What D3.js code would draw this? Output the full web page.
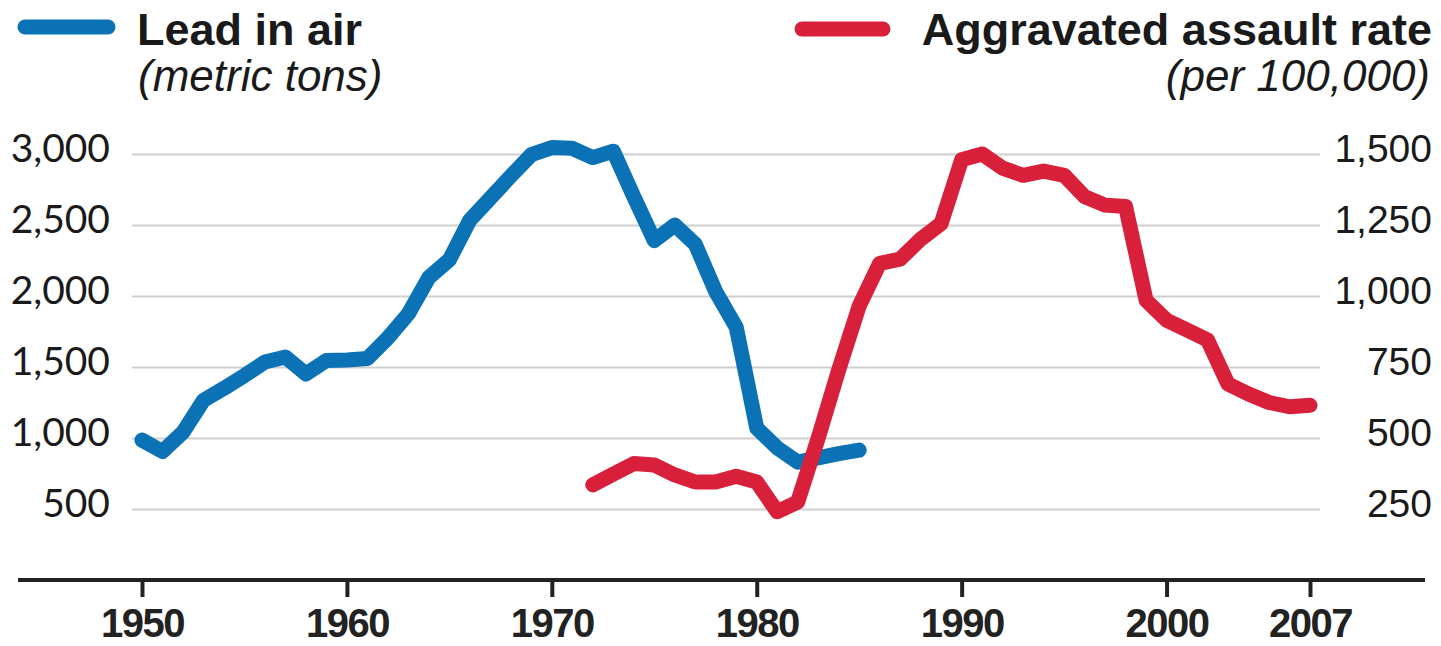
<!DOCTYPE html>
<html>
<head>
<meta charset="utf-8">
<script src="https://cdn.jsdelivr.net/npm/d3@7"></script>
<style>
  body { margin: 0; background: #fff; }
  svg { display: block; font-family: "Liberation Sans", Arial, sans-serif; }
</style>
</head>
<body>
<div id="chart"></div>
<script>
// lead in air, metric tons (left axis)
var leadYears = d3.range(1950, 1986);
var leadValues = [985, 905, 1040, 1265, 1350, 1440, 1535, 1570, 1450, 1545,
  1550, 1560, 1705, 1875, 2130, 2255, 2535, 2690, 2845, 2995,
  3045, 3040, 2975, 3020, 2700, 2390, 2500, 2365, 2030, 1780,
  1070, 930, 830, 860, 890, 915];

// aggravated assault rate per 100,000 (right axis)
var assaultYears = d3.range(1972, 2008);
var assaultValues = [335, 373, 410, 405, 370, 345, 345, 365, 345, 240,
  275, 500, 740, 965, 1115, 1130, 1200, 1255, 1480, 1500,
  1450, 1425, 1440, 1425, 1350, 1320, 1315, 985, 915, 880,
  845, 690, 655, 625, 610, 615];

var yearTicks = [1950, 1960, 1970, 1980, 1990, 2000, 2007];
var leadTicks = [500, 1000, 1500, 2000, 2500, 3000];
var assaultTicks = [250, 500, 750, 1000, 1250, 1500];

var width = 1441, height = 646;
var blue = "#0b72b5", red = "#d8203a";

var svg = d3.select("#chart").append("svg")
  .attr("width", width)
  .attr("height", height);

var x = d3.scaleLinear().domain([1950, 2007]).range([142, 1310]);
var yLeft = d3.scaleLinear().domain([500, 3000]).range([509, 154]);
var yRight = d3.scaleLinear().domain([250, 1500]).range([509, 154]);

var gridLeft = 132, gridRight = 1320;

// left axis with gridlines
var leftAxis = svg.append("g")
  .attr("transform", "translate(" + gridLeft + ",0)")
  .call(d3.axisLeft(yLeft).tickValues(leadTicks)
    .tickSize(-(gridRight - gridLeft)).tickPadding(22)
    .tickFormat(d3.format(",")));
leftAxis.select(".domain").remove();
leftAxis.selectAll(".tick line").attr("stroke", "#cfcfcf").attr("stroke-width", 2);
leftAxis.selectAll(".tick text")
  .attr("dy", "0.19em")
  .style("font-family", "Lato, 'Liberation Sans', sans-serif")
  .style("font-size", "39px")
  .attr("fill", "#1a1a1a");

// right axis labels
var rightAxis = svg.append("g")
  .attr("transform", "translate(" + gridRight + ",0)")
  .call(d3.axisRight(yRight).tickValues(assaultTicks)
    .tickSize(0).tickFormat(d3.format(",")));
rightAxis.select(".domain").remove();
rightAxis.selectAll(".tick text")
  .attr("x", 112)
  .attr("dy", "0.19em")
  .attr("text-anchor", "end")
  .style("font-size", "39px")
  .attr("fill", "#1a1a1a");

// bottom axis
var baseY = 580;
var bottomAxis = svg.append("g")
  .attr("transform", "translate(0," + baseY + ")")
  .call(d3.axisBottom(x).tickValues(yearTicks)
    .tickSize(17).tickFormat(d3.format("d")));
bottomAxis.select(".domain").remove();
bottomAxis.selectAll(".tick line").attr("stroke", "#222").attr("stroke-width", 4);
bottomAxis.selectAll(".tick text")
  .attr("y", 57)
  .attr("dy", null)
  .style("font-size", "40px")
  .style("font-weight", "bold")
  .style("letter-spacing", "-1.5px")
  .attr("fill", "#222");
svg.append("line")
  .attr("x1", 18).attr("x2", 1425)
  .attr("y1", baseY).attr("y2", baseY)
  .attr("stroke", "#222").attr("stroke-width", 4);

// lines
var leadLine = d3.line()
  .x(function (d, i) { return x(leadYears[i]); })
  .y(function (d) { return yLeft(d); });
var assaultLine = d3.line()
  .x(function (d, i) { return x(assaultYears[i]); })
  .y(function (d) { return yRight(d); });

svg.append("path")
  .datum(leadValues)
  .attr("d", leadLine)
  .attr("fill", "none")
  .attr("stroke", blue)
  .attr("stroke-width", 15)
  .attr("stroke-linejoin", "round")
  .attr("stroke-linecap", "round");

svg.append("path")
  .datum(assaultValues)
  .attr("d", assaultLine)
  .attr("fill", "none")
  .attr("stroke", red)
  .attr("stroke-width", 15)
  .attr("stroke-linejoin", "round")
  .attr("stroke-linecap", "round");

// legend
var legend = svg.append("g");
legend.append("line")
  .attr("x1", 25).attr("x2", 108).attr("y1", 27).attr("y2", 27)
  .attr("stroke", blue).attr("stroke-width", 15).attr("stroke-linecap", "round");
legend.append("text")
  .attr("x", 137).attr("y", 45)
  .style("font-size", "45px").style("font-weight", "bold")
  .attr("fill", "#1a1a1a")
  .text("Lead in air");
legend.append("text")
  .attr("x", 138).attr("y", 91)
  .style("font-size", "44px").style("font-style", "italic")
  .attr("fill", "#1a1a1a")
  .text("(metric tons)");

legend.append("line")
  .attr("x1", 802).attr("x2", 883).attr("y1", 29).attr("y2", 29)
  .attr("stroke", red).attr("stroke-width", 15).attr("stroke-linecap", "round");
legend.append("text")
  .attr("x", 1432).attr("y", 45)
  .attr("text-anchor", "end")
  .style("font-size", "45px").style("font-weight", "bold")
  .attr("fill", "#1a1a1a")
  .text("Aggravated assault rate");
legend.append("text")
  .attr("x", 1430).attr("y", 91)
  .attr("text-anchor", "end")
  .style("font-size", "44px").style("font-style", "italic")
  .attr("fill", "#1a1a1a")
  .text("(per 100,000)");
</script>
</body>
</html>
